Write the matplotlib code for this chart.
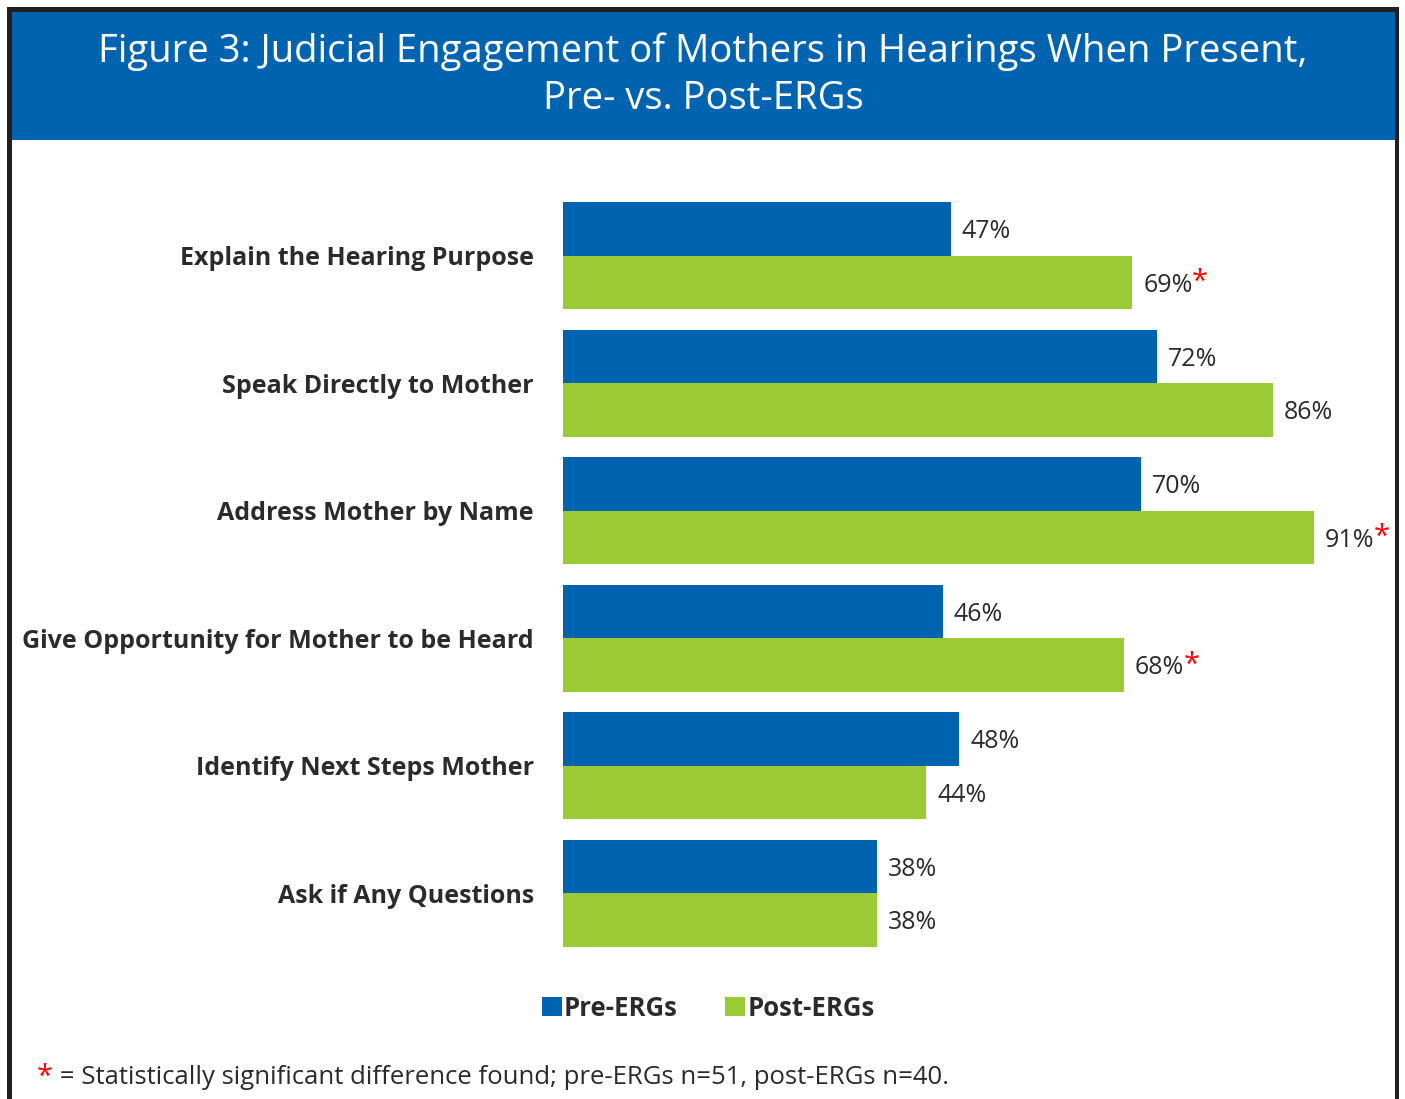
import matplotlib.pyplot as plt
from matplotlib.patches import Rectangle
import numpy as np

# Chart data
categories = [
    'Explain the Hearing Purpose',
    'Speak Directly to Mother',
    'Address Mother by Name',
    'Give Opportunity for Mother to be Heard',
    'Identify Next Steps Mother',
    'Ask if Any Questions',
]
pre_ergs = [47, 72, 70, 46, 48, 38]
post_ergs = [69, 86, 91, 68, 44, 38]
post_significant = [True, False, True, True, False, False]
series_names = ['Pre-ERGs', 'Post-ERGs']

title = 'Figure 3: Judicial Engagement of Mothers in Hearings When Present,\nPre- vs. Post-ERGs'
footnote = ' = Statistically significant difference found; pre-ERGs n=51, post-ERGs n=40.'

BLUE = '#0063AF'
GREEN = '#9ACA34'
DARK = '#231F20'
TEXT = '#2b2b2b'
FONT = 'Open Sans'

W, H = 1405, 1099
fig = plt.figure(figsize=(W / 100, H / 100), dpi=100)
plt.rcParams['font.family'] = [FONT, 'DejaVu Sans']


def fx(px):
    return px / W


def fy(py):
    return 1 - py / H


def frame_rect(x0, y0, x1, y1, color):
    fig.patches.append(Rectangle((fx(x0), fy(y1)), fx(x1 - x0), fy(y0) - fy(y1),
                                 transform=fig.transFigure, facecolor=color,
                                 edgecolor='none', zorder=-10))


# frame border and title band
frame_rect(7, 7, 1399, 1099, DARK)
frame_rect(12, 12, 1395, 1099, 'white')
frame_rect(12, 12, 1395, 140, BLUE)
fig.text(fx(703), fy(75), title, ha='center', va='center', color='white',
         fontsize=27.5, linespacing=1.3)

# bar axes (100% spans ~825 px)
ax = fig.add_axes([fx(563), fy(947), fx(825), fy(202) - fy(947)])
ax.set_facecolor('none')
y = np.arange(len(categories))
h = 0.42
bars_pre = ax.barh(y - h / 2, pre_ergs, height=h, color=BLUE, label=series_names[0])
bars_post = ax.barh(y + h / 2, post_ergs, height=h, color=GREEN, label=series_names[1])
ax.set_xlim(0, 100)
ax.set_ylim(len(categories) - 1 + 0.42, -0.42)
ax.set_yticks(y)
ax.set_yticklabels(categories, fontsize=18, fontweight='bold', color=TEXT)
ax.tick_params(axis='y', length=0, pad=21)
ax.set_xticks([])
for s in ax.spines.values():
    s.set_visible(False)

fig.canvas.draw()
renderer = fig.canvas.get_renderer()

value_texts = []
for yi, v in zip(y - h / 2, pre_ergs):
    ax.annotate(f'{v}%', (v, yi), xytext=(8, -2), textcoords='offset points',
                ha='left', va='center', fontsize=18, color=TEXT)
for yi, v, sig in zip(y + h / 2, post_ergs, post_significant):
    t = ax.annotate(f'{v}%', (v, yi), xytext=(8, -2), textcoords='offset points',
                    ha='left', va='center', fontsize=18, color=TEXT)
    if sig:
        value_texts.append((t, yi))

fig.canvas.draw()
for t, yi in value_texts:
    bb = t.get_window_extent(renderer)
    x_data = ax.transData.inverted().transform((bb.x1 - 1, 0))[0]
    ax.annotate('*', (x_data, yi), xytext=(0, 0), textcoords='offset points',
                ha='left', va='center', fontsize=21, color='red')

# legend
fig.legend(handles=[bars_pre, bars_post], loc='center', bbox_to_anchor=(fx(708), fy(1008)),
           ncol=2, frameon=False, handlelength=0.78, handleheight=0.78,
           handletextpad=0.08, columnspacing=1.85,
           prop={'family': FONT, 'weight': 'bold', 'size': 18.5})
for txt in fig.legends[0].get_texts():
    txt.set_color(TEXT)

# footnote
star = fig.text(fx(37), fy(1077), '*', ha='left', va='center', fontsize=21, color='red')
fig.canvas.draw()
sb = star.get_window_extent(renderer)
fig.text(sb.x1 / W, fy(1078), footnote, ha='left', va='center', fontsize=18.5, color=TEXT)

fig.savefig('out.png', dpi=100)
